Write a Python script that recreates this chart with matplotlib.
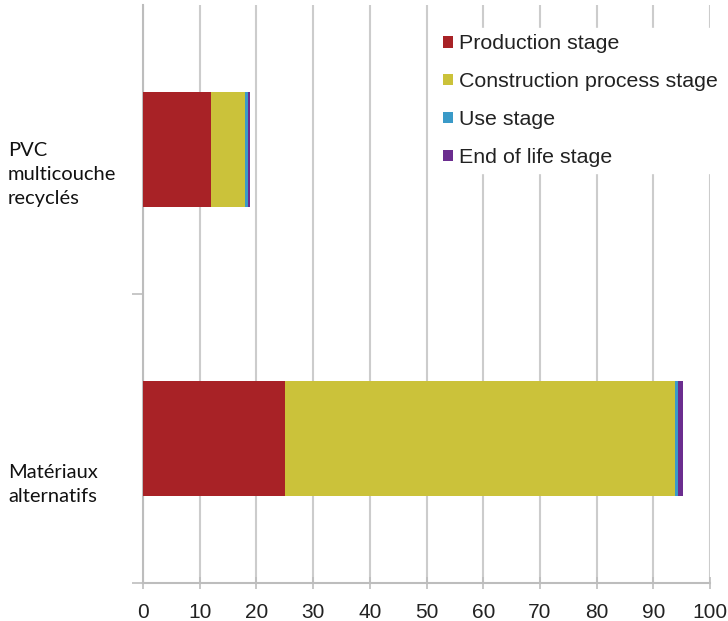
import numpy as np
import matplotlib.pyplot as plt
from matplotlib.patches import Patch

# categories bottom -> top
categories = ["Matériaux\nalternatifs", "PVC\nmulticouche\nrecyclés"]
stages = ["Production stage", "Construction process stage", "Use stage", "End of life stage"]
production = [25.0, 12.0]
construction = [68.8, 6.0]
use = [0.5, 0.6]
end_of_life = [0.9, 0.2]
xticks = [0, 10, 20, 30, 40, 50, 60, 70, 80, 90, 100]

colors = ["#A82226", "#CBC23A", "#3A9AC8", "#6B2D8F"]
series = [production, construction, use, end_of_life]

fig = plt.figure(figsize=(7.28, 6.21), dpi=100)
ax = fig.add_axes([143/728, 38/621, 567/728, 578/621])

y = np.arange(len(categories))
left = np.zeros(len(categories))
for vals, col, name in zip(series, colors, stages):
    ax.barh(y, vals, left=left, height=0.40, color=col, label=name, zorder=3)
    left = left + np.array(vals)

ax.set_xlim(0, 100)
ax.set_ylim(-0.5, 1.5)
ax.set_xticks(xticks)
ax.set_xticklabels([str(t) for t in xticks], fontfamily="Liberation Sans", fontsize=15, color="#222222")
ax.tick_params(axis="x", direction="inout", length=9, width=1.2, color="#BDBDBD", pad=10)
ax.set_yticks([-0.5, 0.5])
ax.set_yticklabels([])
ax.tick_params(axis="y", direction="out", length=8, width=1.2, color="#BDBDBD")

ax.grid(axis="x", color="#CCCCCC", linewidth=1.5, zorder=0)
for s in ["top", "right"]:
    ax.spines[s].set_visible(False)
for s in ["left", "bottom"]:
    ax.spines[s].set_color("#BDBDBD")
    ax.spines[s].set_linewidth(1.5)

# category labels, sitting a bit below each bar centre
offsets = [-0.16, -0.085]
for yi, lab, off in zip(y, categories, offsets):
    ax.text(-135/567, yi + off, lab, transform=ax.get_yaxis_transform(), ha="left", va="center",
            fontfamily="Lato", fontsize=14.5, color="#111111", linespacing=1.5)

handles = [Patch(facecolor=c, edgecolor="none") for c in colors]
leg = fig.legend(handles, stages, loc="upper left", bbox_to_anchor=(437/728, 1 - 28/621),
                 frameon=True, fancybox=False, edgecolor="white", facecolor="white", framealpha=1,
                 prop={"family": "Liberation Sans", "size": 15.4},
                 handlelength=0.45, handleheight=0.45, handletextpad=0.3, labelspacing=0.88,
                 borderpad=0.3, borderaxespad=0)
for txt in leg.get_texts():
    txt.set_color("#222222")

fig.savefig("out.png", dpi=100)
